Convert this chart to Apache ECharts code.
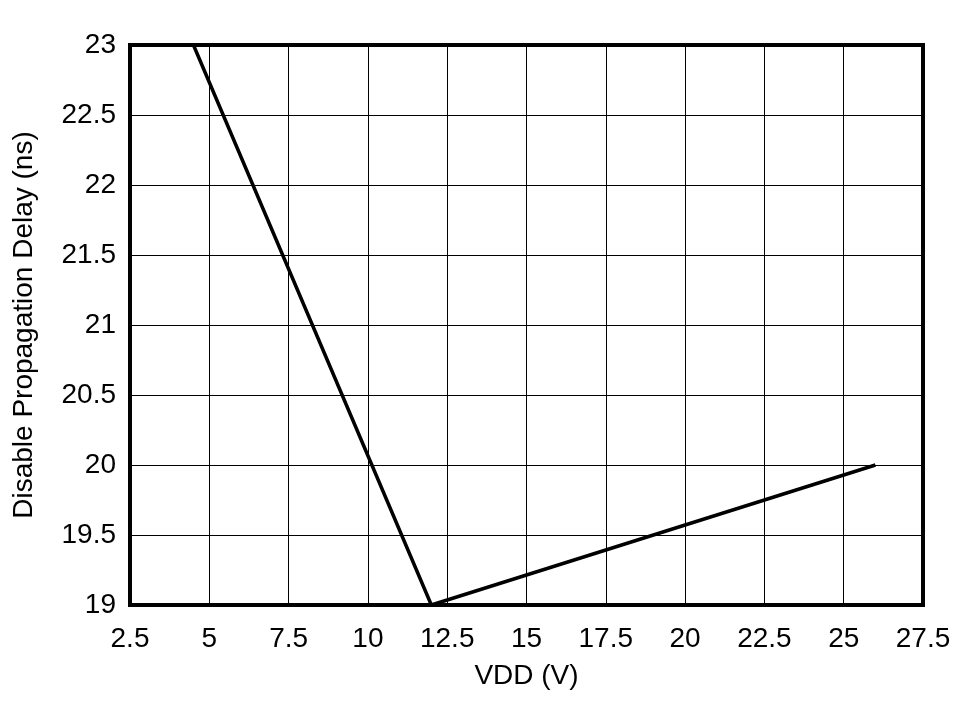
<!DOCTYPE html>
<html><head><meta charset="utf-8">
<script src="https://cdn.jsdelivr.net/npm/echarts@6/dist/echarts.min.js"></script>
<style>html,body{margin:0;padding:0;background:#fff}#c{width:976px;height:701px}</style>
</head><body><div id="c"></div>
<script>
const vdd = [4.5, 12, 26];
const delay = [23, 19, 20];
const xTitle = 'VDD (V)';
const yTitle = 'Disable Propagation Delay (ns)';

const chart = echarts.init(document.getElementById('c'), null, {renderer: 'canvas'});
const font = '"Liberation Sans", Arial, sans-serif';
chart.setOption({
  animation: false,
  backgroundColor: '#fff',
  grid: {left: 130, right: 53, top: 45, bottom: 96, show: true, borderColor: '#000', borderWidth: 4,
         backgroundColor: 'transparent', containLabel: false, outerBoundsMode: 'none'},
  xAxis: {
    type: 'value', min: 2.5, max: 27.5, interval: 2.5,
    name: xTitle, nameLocation: 'middle', nameGap: 57,
    nameTextStyle: {fontFamily: font, fontSize: 28, color: '#000'},
    axisLine: {show: false}, axisTick: {show: false},
    axisLabel: {fontFamily: font, fontSize: 28, color: '#000', margin: 20},
    splitLine: {show: true, lineStyle: {color: '#000', width: 1}}
  },
  yAxis: {
    type: 'value', min: 19, max: 23, interval: 0.5,
    name: yTitle, nameLocation: 'middle', nameGap: 92,
    nameTextStyle: {fontFamily: font, fontSize: 28, color: '#000'},
    axisLine: {show: false}, axisTick: {show: false},
    axisLabel: {fontFamily: font, fontSize: 28, color: '#000', margin: 14},
    splitLine: {show: true, lineStyle: {color: '#000', width: 1}}
  },
  series: [{
    type: 'line', data: vdd.map((v, i) => [v, delay[i]]),
    showSymbol: false, symbol: 'none',
    lineStyle: {color: '#000', width: 3.5}
  }]
});
</script></body></html>
